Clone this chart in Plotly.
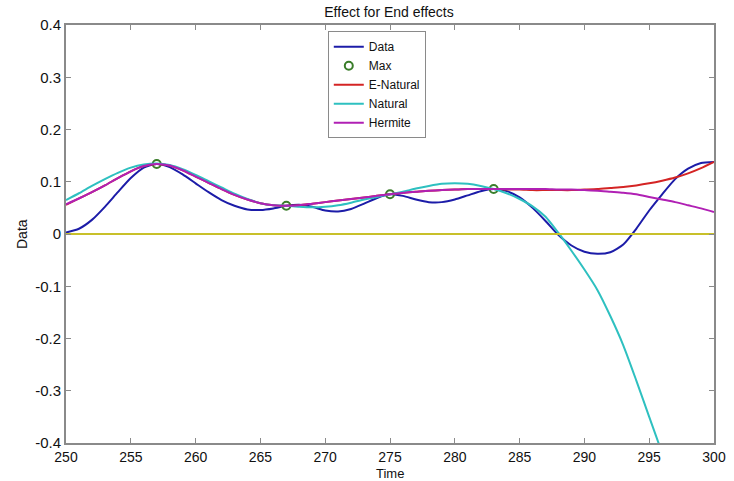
import plotly.graph_objects as go

# Time axis (integer samples)
time = list(range(250, 301))

# Raw signal
data = [0.003, 0.010, 0.027, 0.052, 0.080, 0.107, 0.127, 0.134, 0.128, 0.114,
        0.097, 0.080, 0.065, 0.054, 0.047, 0.046, 0.049, 0.054, 0.056, 0.052,
        0.045, 0.043, 0.048, 0.058, 0.069, 0.076, 0.073, 0.066, 0.061, 0.061,
        0.066, 0.074, 0.082, 0.086, 0.082, 0.070, 0.050, 0.025, -0.002, -0.022,
        -0.034, -0.038, -0.035, -0.020, 0.010, 0.045, 0.076, 0.105, 0.125, 0.136,
        0.138]

# Local maxima of the signal
max_t = [257, 267, 275, 283]
max_v = [0.134, 0.054, 0.076, 0.086]

# Envelope through the maxima, extended natural end conditions
e_natural = [0.056, 0.068, 0.080, 0.093, 0.107, 0.120, 0.130, 0.134, 0.131, 0.122,
             0.110, 0.098, 0.086, 0.075, 0.066, 0.059, 0.055, 0.054, 0.055, 0.058,
             0.061, 0.064, 0.067, 0.070, 0.073, 0.076, 0.079, 0.081, 0.083, 0.084,
             0.085, 0.086, 0.086, 0.086, 0.085, 0.085, 0.084, 0.084, 0.084, 0.084,
             0.085, 0.086, 0.088, 0.090, 0.093, 0.097, 0.102, 0.108, 0.116, 0.126,
             0.138]

# Envelope with plain natural end conditions
natural = [0.065, 0.078, 0.092, 0.105, 0.117, 0.127, 0.133, 0.135, 0.132, 0.124,
           0.113, 0.101, 0.089, 0.077, 0.067, 0.059, 0.055, 0.054, 0.052, 0.051,
           0.052, 0.055, 0.060, 0.066, 0.071, 0.076, 0.081, 0.087, 0.092, 0.096,
           0.097, 0.096, 0.092, 0.086, 0.078, 0.067, 0.053, 0.033, 0.002, -0.032,
           -0.068, -0.107, -0.157, -0.213, -0.280, -0.350, -0.420, -0.500, -0.590, -0.690,
           -0.800]

# Envelope with Hermite interpolation
hermite = [0.057, 0.068, 0.080, 0.093, 0.107, 0.120, 0.130, 0.134, 0.131, 0.122,
           0.110, 0.098, 0.086, 0.075, 0.066, 0.059, 0.055, 0.054, 0.055, 0.058,
           0.061, 0.064, 0.067, 0.070, 0.073, 0.076, 0.079, 0.081, 0.083, 0.084,
           0.085, 0.086, 0.086, 0.086, 0.086, 0.086, 0.086, 0.086, 0.085, 0.085,
           0.084, 0.083, 0.081, 0.079, 0.076, 0.071, 0.066, 0.061, 0.055, 0.049,
           0.042]

zero_line = [0.0] * len(time)

x_ticks = [250, 255, 260, 265, 270, 275, 280, 285, 290, 295, 300]
y_ticks = [0.4, 0.3, 0.2, 0.1, 0.0, -0.1, -0.2, -0.3, -0.4]
y_tick_text = ["0.4", "0.3", "0.2", "0.1", "0", "-0.1", "-0.2", "-0.3", "-0.4"]

FONT = "Liberation Sans, Arial, sans-serif"
TEXT = "#111111"

fig = go.Figure()
fig.add_trace(go.Scatter(x=time, y=data, mode="lines", name="Data",
                         line=dict(color="#1c1ca8", width=2, shape="spline", smoothing=0.6)))
fig.add_trace(go.Scatter(x=max_t, y=max_v, mode="markers", name="Max",
                         marker=dict(symbol="circle-open", size=8,
                                     color="#3a7d2a", line=dict(width=2, color="#3a7d2a"))))
fig.add_trace(go.Scatter(x=time, y=e_natural, mode="lines", name="E-Natural",
                         line=dict(color="#d42424", width=2, shape="spline", smoothing=0.6)))
fig.add_trace(go.Scatter(x=time, y=natural, mode="lines", name="Natural",
                         line=dict(color="#2ec0c0", width=2, shape="spline", smoothing=0.6)))
fig.add_trace(go.Scatter(x=time, y=hermite, mode="lines", name="Hermite",
                         line=dict(color="#b020b4", width=2, shape="spline", smoothing=0.6)))
fig.add_trace(go.Scatter(x=time, y=zero_line, mode="lines", showlegend=False,
                         line=dict(color="#c8c02a", width=2)))

axis_common = dict(
    showgrid=False, zeroline=False, showline=True, linecolor="#8a8a8a", linewidth=2,
    mirror="ticks", ticks="inside", ticklen=5, tickcolor="#8a8a8a", tickwidth=1,
    automargin=False,
)

fig.update_layout(
    width=734, height=481,
    margin=dict(l=66, r=20, t=25, b=38),
    paper_bgcolor="white", plot_bgcolor="white",
    title=dict(text="Effect for End effects", x=0.53, xanchor="center", y=0.984, yanchor="top",
               font=dict(family=FONT, size=14, color=TEXT)),
    xaxis=dict(range=[250, 300], tickvals=x_ticks,
               tickfont=dict(family=FONT, size=14, color=TEXT), **axis_common),
    yaxis=dict(range=[-0.4, 0.4], tickvals=y_ticks, ticktext=y_tick_text,
               tickfont=dict(family=FONT, size=15, color=TEXT), **axis_common),
    legend=dict(x=0.404, y=0.985, xanchor="left", yanchor="top",
                bgcolor="white", bordercolor="#8a8a8a", borderwidth=1,
                font=dict(family=FONT, size=12, color=TEXT),
                tracegroupgap=0, itemwidth=30),
    showlegend=True,
)

# Axis titles
fig.add_annotation(text="Time", xref="paper", yref="paper", x=0.5, y=0,
                   xanchor="center", yanchor="top", yshift=-21, showarrow=False,
                   font=dict(family=FONT, size=13, color=TEXT))
fig.add_annotation(text="Data", xref="paper", yref="paper", x=0, y=0.5,
                   xanchor="center", yanchor="middle", xshift=-44, textangle=-90,
                   showarrow=False, font=dict(family=FONT, size=14, color=TEXT))

fig.write_html("out.html")
